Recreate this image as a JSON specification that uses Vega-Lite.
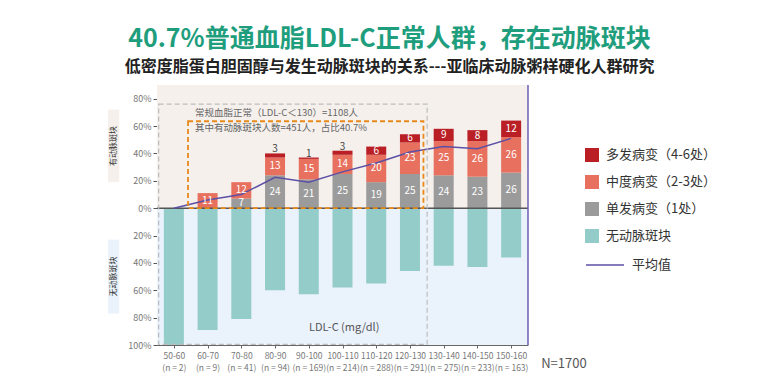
{
  "$schema": "https://vega.github.io/schema/vega-lite/v6.json",
  "width": 371,
  "height": 260,
  "autosize": {"type": "none"},
  "padding": {"left": 157, "top": 85, "right": 254, "bottom": 46},
  "background": "white",
  "config": {"font": "Noto Sans CJK SC", "view": {"stroke": null}, "axis": {"labelOverlap": false, "labelBound": false, "labelFlush": false}, "scale": {"continuousPadding": 0}},
  "title": {
    "text": "40.7%普通血脂LDL-C正常人群，存在动脉斑块",
    "subtitle": "低密度脂蛋白胆固醇与发生动脉斑块的关系---亚临床动脉粥样硬化人群研究",
    "anchor": "middle", "dx": 47, "offset": 9,
    "fontSize": 25, "color": "#1f9e7d", "fontWeight": "bold",
    "subtitleFontSize": 16, "subtitleColor": "#222", "subtitleFontWeight": "bold",
    "subtitlePadding": 7, "font": "Noto Sans CJK SC", "subtitleFont": "Noto Sans CJK SC"
  },
  "datasets": {
    "groups": [
      {"i": 0, "cat": "50-60", "n": 2, "avg": 0},
      {"i": 1, "cat": "60-70", "n": 9, "avg": 6},
      {"i": 2, "cat": "70-80", "n": 41, "avg": 10},
      {"i": 3, "cat": "80-90", "n": 94, "avg": 22.5},
      {"i": 4, "cat": "90-100", "n": 169, "avg": 19},
      {"i": 5, "cat": "100-110", "n": 214, "avg": 26.5},
      {"i": 6, "cat": "110-120", "n": 288, "avg": 33},
      {"i": 7, "cat": "120-130", "n": 291, "avg": 41},
      {"i": 8, "cat": "130-140", "n": 275, "avg": 45},
      {"i": 9, "cat": "140-150", "n": 233, "avg": 43.5},
      {"i": 10, "cat": "150-160", "n": 163, "avg": 51}
    ],
    "bars": [
      {"i": 0, "type": "无动脉斑块", "level": 0, "v": -100},
      {"i": 1, "type": "中度病变（2-3处）", "level": 2, "v": 11},
      {"i": 1, "type": "无动脉斑块", "level": 0, "v": -89},
      {"i": 2, "type": "单发病变（1处）", "level": 1, "v": 7},
      {"i": 2, "type": "中度病变（2-3处）", "level": 2, "v": 12},
      {"i": 2, "type": "无动脉斑块", "level": 0, "v": -81},
      {"i": 3, "type": "单发病变（1处）", "level": 1, "v": 24},
      {"i": 3, "type": "中度病变（2-3处）", "level": 2, "v": 13},
      {"i": 3, "type": "多发病变（4-6处）", "level": 3, "v": 3},
      {"i": 3, "type": "无动脉斑块", "level": 0, "v": -60},
      {"i": 4, "type": "单发病变（1处）", "level": 1, "v": 21},
      {"i": 4, "type": "中度病变（2-3处）", "level": 2, "v": 15},
      {"i": 4, "type": "多发病变（4-6处）", "level": 3, "v": 1},
      {"i": 4, "type": "无动脉斑块", "level": 0, "v": -63},
      {"i": 5, "type": "单发病变（1处）", "level": 1, "v": 25},
      {"i": 5, "type": "中度病变（2-3处）", "level": 2, "v": 14},
      {"i": 5, "type": "多发病变（4-6处）", "level": 3, "v": 3},
      {"i": 5, "type": "无动脉斑块", "level": 0, "v": -58},
      {"i": 6, "type": "单发病变（1处）", "level": 1, "v": 19},
      {"i": 6, "type": "中度病变（2-3处）", "level": 2, "v": 20},
      {"i": 6, "type": "多发病变（4-6处）", "level": 3, "v": 6},
      {"i": 6, "type": "无动脉斑块", "level": 0, "v": -55},
      {"i": 7, "type": "单发病变（1处）", "level": 1, "v": 25},
      {"i": 7, "type": "中度病变（2-3处）", "level": 2, "v": 23},
      {"i": 7, "type": "多发病变（4-6处）", "level": 3, "v": 6},
      {"i": 7, "type": "无动脉斑块", "level": 0, "v": -46},
      {"i": 8, "type": "单发病变（1处）", "level": 1, "v": 24},
      {"i": 8, "type": "中度病变（2-3处）", "level": 2, "v": 25},
      {"i": 8, "type": "多发病变（4-6处）", "level": 3, "v": 9},
      {"i": 8, "type": "无动脉斑块", "level": 0, "v": -42},
      {"i": 9, "type": "单发病变（1处）", "level": 1, "v": 23},
      {"i": 9, "type": "中度病变（2-3处）", "level": 2, "v": 26},
      {"i": 9, "type": "多发病变（4-6处）", "level": 3, "v": 8},
      {"i": 9, "type": "无动脉斑块", "level": 0, "v": -43},
      {"i": 10, "type": "单发病变（1处）", "level": 1, "v": 26},
      {"i": 10, "type": "中度病变（2-3处）", "level": 2, "v": 26},
      {"i": 10, "type": "多发病变（4-6处）", "level": 3, "v": 12},
      {"i": 10, "type": "无动脉斑块", "level": 0, "v": -36}
    ],
    "panels": [
      {"x1": -0.5, "x2": 10.5, "y1": 0, "y2": 90, "zone": "up"},
      {"x1": -0.5, "x2": 10.5, "y1": -100, "y2": 0, "zone": "down"},
      {"x1": -1.95, "x2": -1.62, "y1": 19, "y2": 72, "zone": "up"},
      {"x1": -1.95, "x2": -1.62, "y1": -23, "y2": -77, "zone": "down"}
    ],
    "notes": [
      {"x": 0.63, "y": 69.3, "t": "常规血脂正常（LDL-C＜130）=1108人"},
      {"x": 0.63, "y": 58.4, "t": "其中有动脉斑块人数=451人，占比40.7%"}
    ]
  },
  "layer": [
    {
      "data": {"name": "panels"},
      "mark": {"type": "rect"},
      "encoding": {
        "x": {"field": "x1", "type": "quantitative", "scale": {"domain": [-0.5, 10.5], "nice": false, "zero": false, "padding": 0},
          "axis": {"values": [0,1,2,3,4,5,6,7,8,9,10], "tickCount": 30, "title": null, "grid": false,
            "labelExpr": "[['50-60','(n = 2)'],['60-70','(n = 9)'],['70-80','(n = 41)'],['80-90','(n = 94)'],['90-100','(n = 169)'],['100-110','(n = 214)'],['110-120','(n = 288)'],['120-130','(n = 291)'],['130-140','(n = 275)'],['140-150','(n = 233)'],['150-160','(n = 163)']][datum.value]",
            "labelFontSize": 8.5, "labelColor": "#777", "labelLineHeight": 12, "labelPadding": 3,
            "labelOverlap": false, "labelBound": false, "labelFlush": false,
            "domainColor": "#666", "tickColor": "#666", "tickSize": 3}},
        "x2": {"field": "x2"},
        "y": {"field": "y1", "type": "quantitative", "scale": {"domain": [-100, 90], "nice": false, "zero": false, "padding": 0},
          "axis": {"values": [-100,-80,-60,-40,-20,0,20,40,60,80], "tickCount": 30, "labelExpr": "abs(datum.value) + '%'", "title": null, "grid": false,
            "labelOverlap": false, "labelFlush": false, "labelBound": false,
            "labelFontSize": 9, "labelColor": "#777", "domainColor": "#555", "tickColor": "#555", "tickSize": 4}},
        "y2": {"field": "y2"},
        "fill": {"field": "zone", "type": "nominal", "scale": {"domain": ["up", "down"], "range": ["#f5f0ec", "#eaf2fc"]}, "legend": null}
      }
    },
    {
      "data": {"name": "bars"},
      "mark": {"type": "bar", "width": 20},
      "encoding": {
        "x": {"field": "i", "type": "quantitative"},
        "y": {"field": "v", "type": "quantitative", "stack": "zero"},
        "order": {"field": "level", "type": "quantitative"},
        "color": {"field": "type", "type": "nominal",
          "scale": {"domain": ["多发病变（4-6处）", "中度病变（2-3处）", "单发病变（1处）", "无动脉斑块"],
            "range": ["#b91f25", "#e8705e", "#9b9b9b", "#93ccc8"]},
          "legend": {"orient": "none", "legendX": 428, "legendY": 63, "title": null,
            "symbolType": "square", "symbolSize": 196, "symbolStrokeWidth": 0, "symbolOpacity": 1,
            "labelFontSize": 13, "labelColor": "#333", "labelOffset": 7, "rowPadding": 13, "labelFont": "Noto Sans CJK SC"}}
      }
    },
    {
      "data": {"name": "panels"},
      "mark": {"type": "rule", "color": "#555", "strokeWidth": 1.5},
      "transform": [{"filter": "datum.zone == 'up' && datum.x1 < 0 && datum.x2 > 10"}],
      "encoding": {"x": {"field": "x1", "type": "quantitative"}, "x2": {"field": "x2"}, "y": {"datum": 0}}
    },
    {
      "data": {"name": "panels"},
      "mark": {"type": "rule", "color": "#6a5fb5", "strokeWidth": 1.5},
      "transform": [{"filter": "datum.zone == 'up' && datum.x1 < 0 && datum.x2 > 10"}],
      "encoding": {"x": {"field": "x2", "type": "quantitative"}, "y": {"datum": -100}, "y2": {"datum": 90}}
    },
    {
      "data": {"name": "groups"},
      "mark": {"type": "line", "strokeWidth": 1.5},
      "encoding": {
        "x": {"field": "i", "type": "quantitative"},
        "y": {"field": "avg", "type": "quantitative"},
        "stroke": {"datum": "平均值", "scale": {"range": ["#5b50a5"]},
          "legend": {"orient": "none", "legendX": 428, "legendY": 160, "title": null,
            "symbolType": "stroke", "symbolSize": 1444, "symbolStrokeWidth": 1.5,
            "labelFontSize": 13, "labelColor": "#333", "labelOffset": 7, "labelFont": "Noto Sans CJK SC"}}
      }
    },
    {
      "data": {"values": [{"x1": -0.45, "x2": 7.51, "y1": -99.5, "y2": 76, "box": "all"}]},
      "mark": {"type": "rect", "fill": null, "fillOpacity": 0, "strokeDash": [5, 3], "stroke": "#bdbdbd", "strokeWidth": 1.2},
      "encoding": {
        "x": {"field": "x1", "type": "quantitative"}, "x2": {"field": "x2"},
        "y": {"field": "y1", "type": "quantitative"}, "y2": {"field": "y2"}
      }
    },
    {
      "data": {"values": [{"x1": 0.42, "x2": 7.4, "y1": 0, "y2": 63.5, "box": "plaque"}]},
      "mark": {"type": "rect", "fill": null, "fillOpacity": 0, "strokeDash": [5, 3], "stroke": "#e8891a", "strokeWidth": 1.8},
      "encoding": {
        "x": {"field": "x1", "type": "quantitative"}, "x2": {"field": "x2"},
        "y": {"field": "y1", "type": "quantitative"}, "y2": {"field": "y2"}
      }
    },
    {
      "data": {"name": "bars"},
      "transform": [
        {"stack": "v", "groupby": ["i"], "sort": [{"field": "level"}], "as": ["y0", "y1"]},
        {"filter": "datum.v > 0 && (datum.level < 3 || datum.v >= 6)"},
        {"calculate": "(datum.y0 + datum.y1) / 2", "as": "ym"}
      ],
      "mark": {"type": "text", "color": "white", "fontSize": 10, "baseline": "middle"},
      "encoding": {
        "x": {"field": "i", "type": "quantitative"},
        "y": {"field": "ym", "type": "quantitative"},
        "text": {"field": "v", "type": "quantitative"}
      }
    },
    {
      "data": {"name": "bars"},
      "transform": [
        {"stack": "v", "groupby": ["i"], "sort": [{"field": "level"}], "as": ["y0", "y1"]},
        {"filter": "datum.v > 0 && datum.level == 3 && datum.v < 6"}
      ],
      "mark": {"type": "text", "color": "#444", "fontSize": 10, "baseline": "bottom", "dy": 1},
      "encoding": {
        "x": {"field": "i", "type": "quantitative"},
        "y": {"field": "y1", "type": "quantitative"},
        "text": {"field": "v", "type": "quantitative"}
      }
    },
    {
      "data": {"name": "notes"},
      "mark": {"type": "text", "align": "left", "baseline": "middle", "fontSize": 9.5, "color": "#666"},
      "encoding": {
        "x": {"field": "x", "type": "quantitative"},
        "y": {"field": "y", "type": "quantitative"},
        "text": {"field": "t"}
      }
    },
    {
      "data": {"values": [{"x": 5.05, "y": -87.6, "t": "LDL-C (mg/dl)"}]},
      "mark": {"type": "text", "baseline": "middle", "align": "center", "fontSize": 11, "color": "#555"},
      "encoding": {
        "x": {"field": "x", "type": "quantitative"},
        "y": {"field": "y", "type": "quantitative"},
        "text": {"field": "t"}
      }
    },
    {
      "data": {"values": [{"x": 10.89, "y": -113.9, "t": "N=1700"}]},
      "mark": {"type": "text", "baseline": "middle", "align": "left", "fontSize": 13, "color": "#555"},
      "encoding": {
        "x": {"field": "x", "type": "quantitative"},
        "y": {"field": "y", "type": "quantitative"},
        "text": {"field": "t"}
      }
    },
    {
      "data": {"values": [
        {"x": -1.785, "y": 45.5, "t": "有动脉斑块"},
        {"x": -1.785, "y": -50, "t": "无动脉斑块"}
      ]},
      "mark": {"type": "text", "angle": 270, "baseline": "middle", "align": "center", "fontSize": 8, "color": "#333"},
      "encoding": {
        "x": {"field": "x", "type": "quantitative"},
        "y": {"field": "y", "type": "quantitative"},
        "text": {"field": "t"}
      }
    }
  ]
}
